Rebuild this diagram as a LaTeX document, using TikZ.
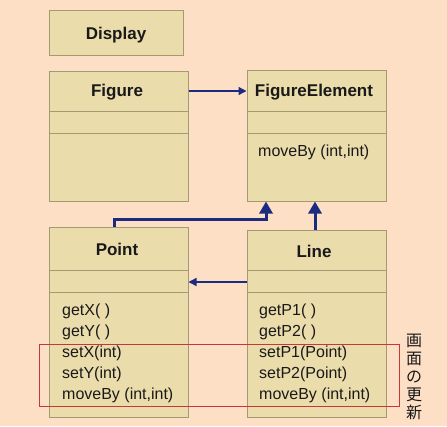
\documentclass[tikz,border=0pt]{standalone}
\usepackage{fontspec}
\setmainfont{Liberation Sans}
\newfontfamily\cjk{Noto Sans CJK JP}
\usetikzlibrary{arrows.meta}
\definecolor{bgc}{HTML}{FDDFC5}
\definecolor{boxc}{HTML}{EBDCAB}
\definecolor{edgec}{HTML}{A39A72}
\definecolor{navy}{HTML}{1B2B80}
\definecolor{redc}{HTML}{C8363A}
\begin{document}
\begin{tikzpicture}[x=1pt,y=-1pt,
  cls/.style={draw=edgec,fill=boxc,line width=1pt,inner sep=0pt,minimum width=139pt},
  ttl/.style={font=\bfseries\fontsize{17}{20}\selectfont,anchor=base,text=black!90,inner sep=0pt},
  mth/.style={font=\fontsize{16}{19}\selectfont,anchor=base west,text=black!90,inner sep=0pt},
  div/.style={draw=edgec,line width=1pt},
  thin/.style={draw=navy,line width=1.3pt,-{Triangle[width=8pt,length=8pt]}},
  thick/.style={draw=navy,line width=3pt,-{Triangle[width=13pt,length=12pt]}}]
\fill[bgc] (0,0) rectangle (447,426);
\useasboundingbox (0,0) rectangle (447,426);
% boxes
\node[cls,minimum width=134pt,minimum height=45pt] (display) at (116,32.5) {};
\node[cls,minimum height=130pt] (figure) at (118.5,136) {};
\node[cls,minimum height=131pt] (fe) at (316.5,135.5) {};
\node[cls,minimum height=190pt] (point) at (118.5,322) {};
\node[cls,minimum height=187pt] (line) at (316.5,323.5) {};
% dividers
\draw[div] (49,111) -- (188,111) (49,133) -- (188,133);
\draw[div] (247,111) -- (386,111) (247,133) -- (386,133);
\draw[div] (49,270) -- (188,270) (49,292) -- (188,292);
\draw[div] (247,270) -- (386,270) (247,292) -- (386,292);
% titles
\node[ttl] (tdisp) at (116,39) {Display};
\node[ttl] (tfig) at (117,96) {Figure};
\node[ttl] (tfe) at (314,96) {FigureElement};
\node[ttl] (tpt) at (117,255) {Point};
\node[ttl] (tln) at (314,257) {Line};
% methods
\node[mth] (m0) at (258,156) {moveBy (int,int)};
\node[mth] (p1) at (62,315) {getX( )};
\node[mth] (p2) at (62,336) {getY( )};
\node[mth] (p3) at (62,357) {setX(int)};
\node[mth] (p4) at (62,378) {setY(int)};
\node[mth] (p5) at (62,399) {moveBy (int,int)};
\node[mth] (l1) at (259,315) {getP1( )};
\node[mth] (l2) at (259,336) {getP2( )};
\node[mth] (l3) at (259,357) {setP1(Point)};
\node[mth] (l4) at (259,378) {setP2(Point)};
\node[mth] (l5) at (259,399) {moveBy (int,int)};
% connectors
\draw[thin] (figure.east |- 0,91) -- (fe.west |- 0,91);
\draw[thin] (line.west |- 0,282) -- (point.east |- 0,282);
\draw[thick,rounded corners=0pt] ([xshift=-4pt]point.north) |- (266,219) -- ([xshift=-50.5pt]fe.south);
\draw[thick] ([xshift=-1.5pt]line.north) -- ([xshift=-1.5pt]fe.south);
% highlight
\node[draw=redc,line width=1pt,minimum width=360pt,minimum height=62pt,inner sep=0pt] (hl) at (219,375) {};
\node[font=\cjk\fontsize{16}{18}\selectfont,align=center,inner sep=0pt,text=black!90] (jp) at (414,376.5) {画\\面\\の\\更\\新};
\end{tikzpicture}
\end{document}
